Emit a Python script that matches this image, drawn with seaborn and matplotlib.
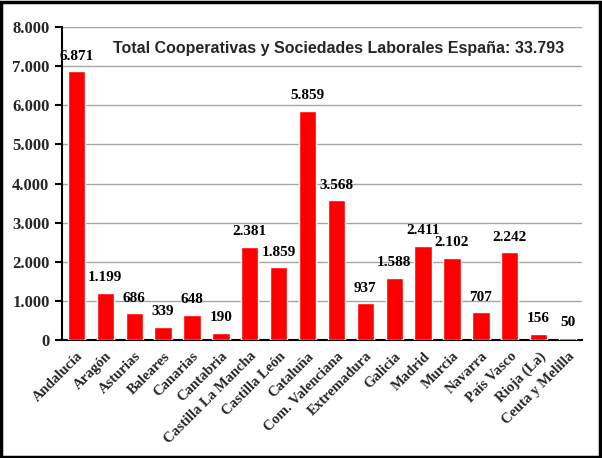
import matplotlib
matplotlib.use("Agg")
import matplotlib.pyplot as plt
import seaborn as sns
import pandas as pd
from matplotlib.ticker import FixedLocator
from matplotlib.patches import Rectangle

regions = ["Andalucía", "Aragón", "Asturias", "Baleares", "Canarias", "Cantabria",
           "Castilla La Mancha", "Castilla León", "Cataluña", "Com. Valenciana",
           "Extremadura", "Galicia", "Madrid", "Murcia", "Navarra", "País Vasco",
           "Rioja (La)", "Ceuta y Melilla"]
values = [6871, 1199, 686, 339, 648, 190, 2381, 1859, 5859, 3568,
          937, 1588, 2411, 2102, 707, 2242, 156, 50]
yticks = [0, 1000, 2000, 3000, 4000, 5000, 6000, 7000, 8000]
title = "Total Cooperativas y Sociedades Laborales España: 33.793"

df = pd.DataFrame({"region": regions, "value": values})

def fmt(v):
    return f"{int(v):,}".replace(",", ".")

sns.set_theme(style="white")
serif = ["Liberation Serif", "DejaVu Serif"]

fig = plt.figure(figsize=(6.02, 4.58), dpi=100)
ax = fig.add_axes([62/602, 1 - 340/458, (582-62)/602, (340-27)/458])

sns.barplot(data=df, x="region", y="value", color="#ff0000", saturation=1,
            width=0.6, ax=ax, zorder=3)

ax.set_ylim(0, 8000)
ax.set_xlim(-0.5, len(regions) - 0.5)
ax.set_yticks(yticks, labels=[fmt(t) for t in yticks])
ax.grid(axis="y", color="#a6a6a6", linewidth=1, zorder=0)
ax.set_axisbelow(True)
for s in ["top", "right"]:
    ax.spines[s].set_visible(False)
for s in ["left", "bottom"]:
    ax.spines[s].set_color("black")
    ax.spines[s].set_linewidth(1.5)

ax.set_xlabel("")
ax.set_ylabel("")
ax.set_xticks(range(len(regions)), labels=regions)
ax.xaxis.set_minor_locator(FixedLocator([i - 0.5 for i in range(len(regions) + 1)]))
ax.tick_params(axis="x", which="major", length=0, pad=7)
ax.tick_params(axis="x", which="minor", length=5, width=1.5, color="black", direction="out")
ax.tick_params(axis="y", length=5, width=1.5, color="black", direction="out", left=True, pad=4,
               labelsize=12)

fig.canvas.draw()
for lab in ax.get_yticklabels():
    lab.set_fontsize(12)
    lab.set_fontweight("bold")
    lab.set_family(serif)
for lab in ax.get_xticklabels():
    lab.set_fontsize(10.5)
    lab.set_fontweight("bold")
    lab.set_family(serif)
    lab.set_rotation(45)
    lab.set_ha("right")
    lab.set_rotation_mode("anchor")

for i, v in enumerate(values):
    ax.text(i, v + 220, fmt(v), ha="center", va="bottom",
            fontsize=11, fontweight="bold", family=serif, color="black")

ax.text(0.532, 0.93, title, transform=ax.transAxes, ha="center", va="center",
        fontsize=11.5, fontweight="bold", family=["Liberation Sans", "DejaVu Sans"])

fig.patches.append(Rectangle((0.002, 0.003), 0.994, 0.993, transform=fig.transFigure,
                             fill=False, edgecolor="black", linewidth=2.5))

fig.savefig("out.png", dpi=100)
